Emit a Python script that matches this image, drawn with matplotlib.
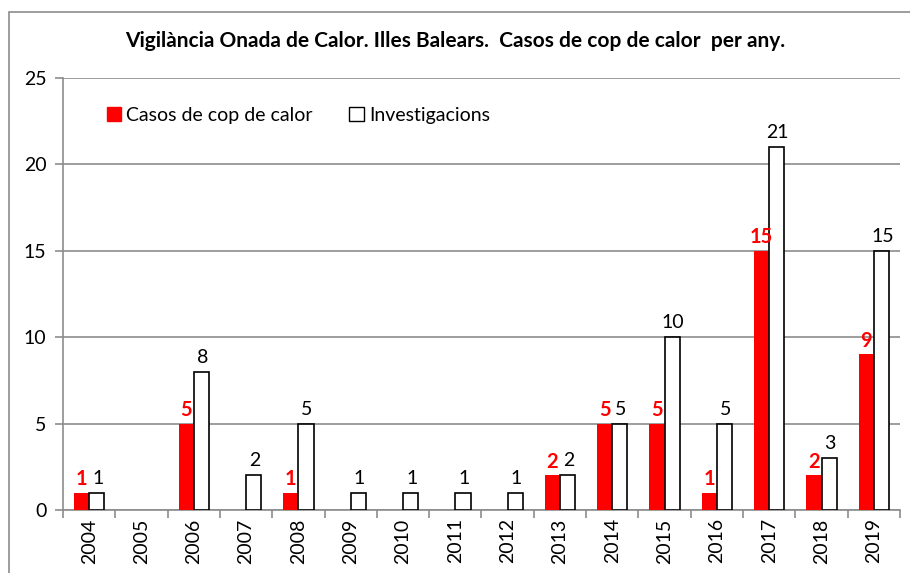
import matplotlib
matplotlib.use("Agg")
import matplotlib.pyplot as plt
from matplotlib.patches import Rectangle, Patch
import numpy as np

plt.rcParams['font.family'] = ['Lato', 'DejaVu Sans']

years = ['2004', '2005', '2006', '2007', '2008', '2009', '2010', '2011',
         '2012', '2013', '2014', '2015', '2016', '2017', '2018', '2019']
casos = [1, 0, 5, 0, 1, 0, 0, 0, 0, 2, 5, 5, 1, 15, 2, 9]
investigacions = [1, 0, 8, 2, 5, 1, 1, 1, 1, 2, 5, 10, 5, 21, 3, 15]

fig = plt.figure(figsize=(9.1, 5.73), dpi=100)
ax = fig.add_axes([63 / 910, 1 - 510 / 573, 837 / 910, 432 / 573])

# outer chart border
fig.patches.append(Rectangle((9 / 910, -0.1), 1.2, 1 - 12 / 573 + 0.1,
                             transform=fig.transFigure, fill=False,
                             edgecolor='#8c8c8c', linewidth=1.2))

x = np.arange(len(years))
w = 0.29
# zero values get no bar at all (like the original)
cx = [x[i] - w / 2 for i in range(len(years)) if casos[i] > 0]
cv = [v for v in casos if v > 0]
ix = [x[i] + w / 2 for i in range(len(years)) if investigacions[i] > 0]
iv = [v for v in investigacions if v > 0]
ax.bar(cx, cv, w, color='#ff0000', zorder=3)
ax.bar(ix, iv, w, color='white', edgecolor='black', linewidth=1.2, zorder=3)

for i in range(len(years)):
    if casos[i] > 0:
        ax.text(x[i] - w / 2, casos[i] + 0.2, str(casos[i]), ha='center',
                va='bottom', color='#ff0000', fontsize=14.5, fontweight='bold')
    if investigacions[i] > 0:
        ax.text(x[i] + w / 2 + 0.02, investigacions[i] + 0.35, str(investigacions[i]),
                ha='center', va='bottom', color='black', fontsize=14)

ax.set_xlim(-0.5, len(years) - 0.5)
ax.set_ylim(0, 25)
ax.set_yticks([0, 5, 10, 15, 20, 25])
ax.yaxis.grid(True, color='#8c8c8c', linewidth=1.2, zorder=0)
ax.set_axisbelow(True)

ax.set_xticks(x)
ax.set_xticklabels(years, rotation=90, fontsize=14)
ax.tick_params(axis='x', length=0, pad=6)
ax.set_xticks(np.arange(len(years) + 1) - 0.5, minor=True)
ax.tick_params(axis='x', which='minor', length=6, color='#8c8c8c', width=1.2)
ax.tick_params(axis='y', labelsize=14, length=6, color='#8c8c8c', width=1.2, pad=6)

for s in ['top', 'right']:
    ax.spines[s].set_visible(False)
for s in ['left', 'bottom']:
    ax.spines[s].set_color('#8c8c8c')
    ax.spines[s].set_linewidth(1.2)

handles = [Patch(facecolor='#ff0000', edgecolor='#ff0000', label='Casos de cop de calor'),
           Patch(facecolor='white', edgecolor='black', label='Investigacions')]
ax.legend(handles=handles, loc='center left', bbox_to_anchor=(0.052, 0.914), ncol=2,
          frameon=False, fontsize=14, handlelength=0.75, handleheight=0.75,
          handletextpad=0.25, columnspacing=1.9, borderaxespad=0, borderpad=0)

fig.text(0.5, 1 - 41 / 573, 'Vigilància Onada de Calor. Illes Balears.  Casos de cop de calor  per any.',
         ha='center', va='center', fontsize=15, fontweight='bold')

fig.savefig('out.png', dpi=100)
